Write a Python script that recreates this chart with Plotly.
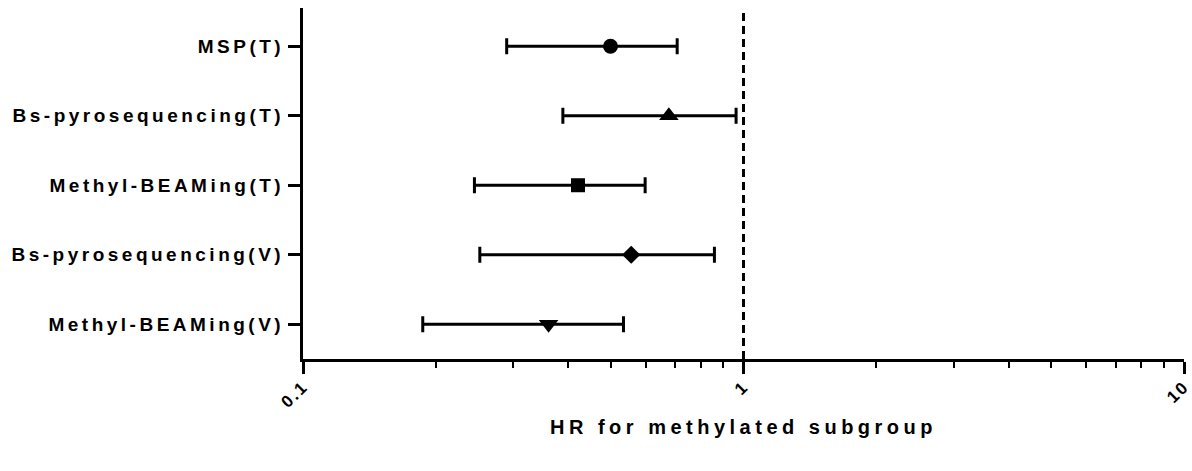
import plotly.graph_objects as go

categories = ["MSP(T)", "Bs-pyrosequencing(T)", "Methyl-BEAMing(T)",
              "Bs-pyrosequencing(V)", "Methyl-BEAMing(V)"]
hr = [0.499, 0.677, 0.421, 0.556, 0.361]
ci_low = [0.290, 0.389, 0.245, 0.252, 0.187]
ci_high = [0.707, 0.962, 0.598, 0.859, 0.534]
symbols = ["circle", "triangle-up", "square", "diamond", "triangle-down"]
marker_sizes = [15, 17, 14, 14, 17]

x_tickvals = [0.1, 1, 10]
x_ticktext = ["0.1", "1", "10"]
x_minor = [0.2, 0.3, 0.4, 0.5, 0.6, 0.7, 0.8, 0.9, 2, 3, 4, 5, 6, 7, 8, 9]
ref_line = 1

ypos = list(range(len(categories)))
y_range = [4.5, -0.55]

fig = go.Figure()

# reference dashed line at HR = 1
fig.add_trace(go.Scatter(
    x=[ref_line, ref_line], y=y_range, mode="lines",
    line=dict(color="black", width=3, dash="8px,5px"),
    hoverinfo="skip", showlegend=False))

for i in ypos:
    fig.add_trace(go.Scatter(
        x=[hr[i]], y=[i], mode="markers",
        marker=dict(symbol=symbols[i], size=marker_sizes[i], color="black",
                    line=dict(width=0)),
        error_x=dict(type="data", symmetric=False,
                     array=[ci_high[i] - hr[i]],
                     arrayminus=[hr[i] - ci_low[i]],
                     color="black", thickness=3, width=8),
        showlegend=False, name=categories[i]))

font_family = "Liberation Sans, Arial, sans-serif"

fig.update_layout(
    width=1192, height=471,
    margin=dict(l=303, r=8, t=8, b=112),
    paper_bgcolor="white", plot_bgcolor="white",
    font=dict(family=font_family, color="black", size=17, weight="bold"),
    xaxis=dict(
        type="log", range=[-1, 1],
        tickvals=x_tickvals, ticktext=x_ticktext,
        tickangle=-45,
        ticklabeloverflow="allow",
        ticklabelstandoff=-4,
        ticks="outside", ticklen=12, tickwidth=3, tickcolor="black",
        minor=dict(tickvals=x_minor, ticks="outside", ticklen=6,
                   tickwidth=2, tickcolor="black"),
        showline=True, linewidth=3, linecolor="black",
        showgrid=False, zeroline=False,
        tickfont=dict(size=17, weight="bold"),
        title=dict(text="HR for methylated subgroup",
                   font=dict(size=20, weight="bold"), standoff=14),
        automargin=False,
    ),
    yaxis=dict(
        range=y_range,
        tickvals=ypos, ticktext=categories,
        ticks="outside", ticklen=12, tickwidth=3, tickcolor="black",
        showline=True, linewidth=3, linecolor="black",
        showgrid=False, zeroline=False,
        tickfont=dict(size=19, weight="bold"),
        automargin=False,
    ),
)

post = """
var s = document.createElement('style');
s.innerHTML = '.ytick text { letter-spacing: 3.5px; } .xtick text { letter-spacing: 2px; } .xtitle { letter-spacing: 4.5px; }';
document.head.appendChild(s);
"""

fig.write_html("out.html", post_script=post)
